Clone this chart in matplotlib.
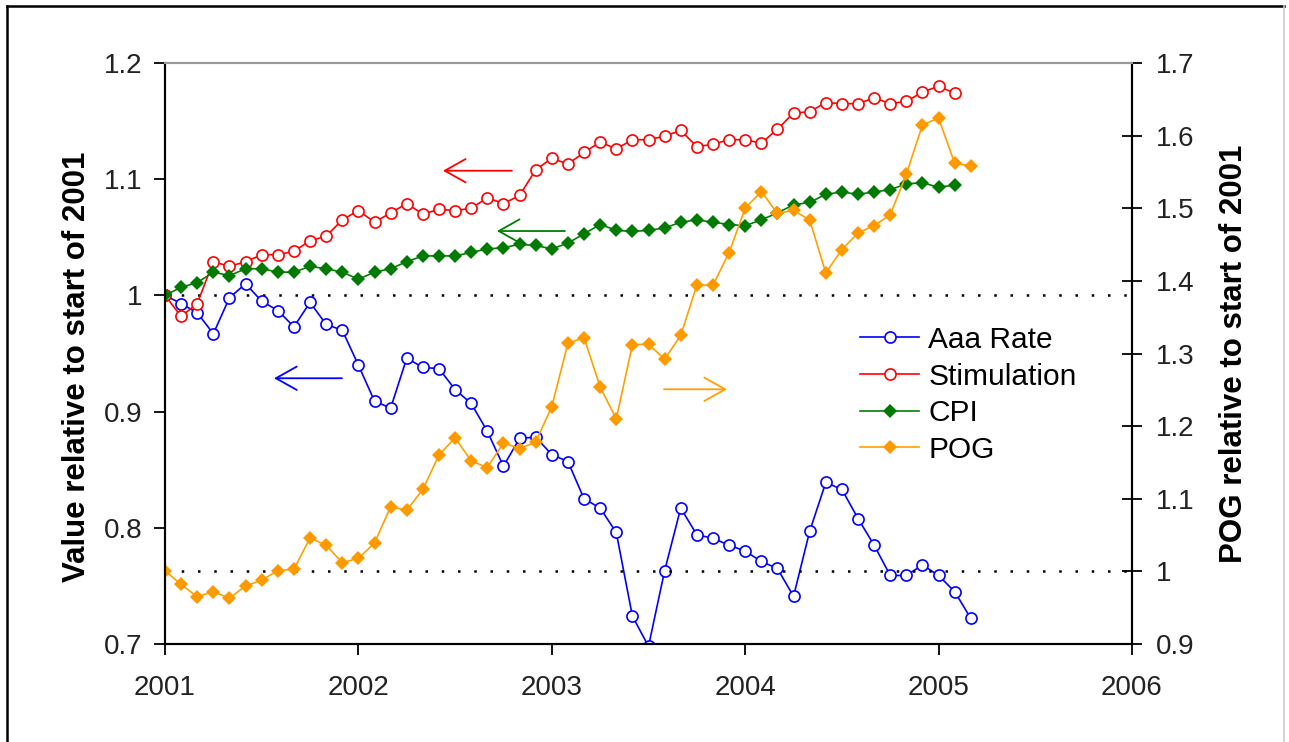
import numpy as np
import matplotlib
matplotlib.use("Agg")
import matplotlib.pyplot as plt
from matplotlib.lines import Line2D

plt.rcParams['font.family'] = ['Liberation Sans', 'DejaVu Sans']

# Monthly series, starting January 2001
START_YEAR = 2001

aaa_rate = [1.000, 0.993, 0.985, 0.967, 0.998, 1.010, 0.995, 0.987, 0.973, 0.994,
            0.975, 0.970, 0.940, 0.909, 0.903, 0.946, 0.938, 0.937, 0.919, 0.907,
            0.883, 0.853, 0.877, 0.878, 0.863, 0.857, 0.825, 0.817, 0.796, 0.724,
            0.698, 0.763, 0.817, 0.794, 0.791, 0.785, 0.780, 0.771, 0.765, 0.741,
            0.797, 0.839, 0.833, 0.808, 0.785, 0.759, 0.759, 0.768, 0.759, 0.745,
            0.722]

stimulation = [1.000, 0.982, 0.993, 1.029, 1.025, 1.029, 1.035, 1.035, 1.038, 1.047,
               1.051, 1.065, 1.073, 1.063, 1.071, 1.079, 1.070, 1.074, 1.073, 1.075,
               1.084, 1.079, 1.086, 1.108, 1.118, 1.113, 1.123, 1.132, 1.126, 1.134,
               1.134, 1.137, 1.142, 1.128, 1.130, 1.134, 1.134, 1.131, 1.143, 1.157,
               1.158, 1.166, 1.165, 1.165, 1.170, 1.165, 1.167, 1.175, 1.180, 1.174]

cpi = [1.000, 1.007, 1.011, 1.020, 1.017, 1.023, 1.023, 1.020, 1.020, 1.025,
       1.023, 1.020, 1.014, 1.020, 1.023, 1.029, 1.034, 1.034, 1.034, 1.037,
       1.040, 1.041, 1.044, 1.043, 1.040, 1.045, 1.053, 1.061, 1.056, 1.055,
       1.056, 1.058, 1.063, 1.065, 1.063, 1.061, 1.060, 1.065, 1.071, 1.078,
       1.080, 1.087, 1.089, 1.087, 1.089, 1.091, 1.096, 1.097, 1.093, 1.095]

pog = [1.001, 0.982, 0.965, 0.972, 0.963, 0.980, 0.988, 1.001, 1.003, 1.046,
       1.036, 1.012, 1.018, 1.039, 1.089, 1.084, 1.113, 1.160, 1.184, 1.152,
       1.143, 1.177, 1.169, 1.178, 1.227, 1.314, 1.322, 1.254, 1.210, 1.312,
       1.313, 1.292, 1.325, 1.394, 1.394, 1.439, 1.500, 1.523, 1.493, 1.497,
       1.484, 1.411, 1.443, 1.466, 1.476, 1.491, 1.547, 1.615, 1.624, 1.562,
       1.558]

year_ticks = [2001, 2002, 2003, 2004, 2005, 2006]
left_ticks = [0.7, 0.8, 0.9, 1.0, 1.1, 1.2]
left_tick_labels = ['0.7', '0.8', '0.9', '1', '1.1', '1.2']
right_ticks = [0.9, 1.0, 1.1, 1.2, 1.3, 1.4, 1.5, 1.6, 1.7]
right_tick_labels = ['0.9', '1', '1.1', '1.2', '1.3', '1.4', '1.5', '1.6', '1.7']


def months(series):
    return START_YEAR + np.arange(len(series)) / 12.0


def main():
    fig = plt.figure(figsize=(12.89, 7.42), dpi=100)
    ax = fig.add_axes([165 / 1289, 1 - 644 / 742, (1132 - 165) / 1289, (644 - 63) / 742])
    ax2 = ax.twinx()

    # Reference lines at 1 on both axes
    dots = dict(color='black', lw=1.8, linestyle=(0, (1, 5.5)), zorder=1)
    ax.axhline(1.0, **dots)
    ax2.axhline(1.0, **dots)

    open_mk = dict(marker='o', markersize=8, markerfacecolor='white',
                   markeredgewidth=1.2, lw=1.2)
    fill_mk = dict(marker='D', markersize=7, markeredgewidth=0, lw=1.2)

    l1, = ax.plot(months(aaa_rate), aaa_rate, color='#0000FF',
                  markeredgecolor='#0000FF', label='Aaa Rate', **open_mk)
    l2, = ax.plot(months(stimulation), stimulation, color='#FF0000',
                  markeredgecolor='#FF0000', label='Stimulation', **open_mk)
    l3, = ax.plot(months(cpi), cpi, color='#008000',
                  markerfacecolor='#007A00', label='CPI', **fill_mk)
    l4, = ax2.plot(months(pog), pog, color='#FFA000',
                   markerfacecolor='#FF9900', label='POG', **fill_mk)

    # Axes ranges and ticks
    ax.set_xlim(2001, 2006)
    ax.set_ylim(0.7, 1.2)
    ax2.set_ylim(0.9, 1.7)
    ax.set_xticks(year_ticks)
    ax.set_xticklabels([str(y) for y in year_ticks])
    ax.set_yticks(left_ticks)
    ax.set_yticklabels(left_tick_labels)
    ax2.set_yticks(right_ticks)
    ax2.set_yticklabels(right_tick_labels)

    ax.tick_params(axis='both', direction='out', length=8, width=1.3,
                   labelsize=20, colors='black', labelcolor='#222222')
    ax.tick_params(axis='x', pad=14)
    ax.tick_params(axis='y', pad=8)
    ax2.tick_params(axis='y', direction='inout', length=14, width=1.3,
                    labelsize=20, labelcolor='#222222', pad=10)

    for a in (ax, ax2):
        a.spines['top'].set_color('#999999')
        a.spines['top'].set_linewidth(1.5)
        for side in ('left', 'right', 'bottom'):
            a.spines[side].set_linewidth(1.5)

    ax.set_ylabel('Value relative to start of 2001', fontsize=22.5,
                  fontweight='bold')
    ax.yaxis.set_label_coords(-0.075, 0.477)
    ax2.set_ylabel('POG relative to start of 2001', fontsize=22.5,
                   fontweight='bold', labelpad=18)

    # Arrows showing which axis each series belongs to
    arrow = dict(arrowstyle='->,head_length=1.25,head_width=0.7',
                 mutation_scale=12, lw=1.3, shrinkA=0, shrinkB=0)
    ax.annotate('', xy=(2002.437, 1.1073), xytext=(2002.794, 1.1073),
                arrowprops=dict(color='#FF0000', **arrow))
    ax.annotate('', xy=(2002.716, 1.0554), xytext=(2003.068, 1.0554),
                arrowprops=dict(color='#008000', **arrow))
    ax.annotate('', xy=(2001.564, 0.9287), xytext=(2001.915, 0.9287),
                arrowprops=dict(color='#0000FF', **arrow))
    ax.annotate('', xy=(2003.906, 0.9192), xytext=(2003.580, 0.9192),
                arrowprops=dict(color='#FFA000', **arrow))

    ax2.legend(handles=[l1, l2, l3, l4], loc='upper left',
               bbox_to_anchor=(0.706, 0.568), frameon=False, fontsize=21.5,
               handlelength=2.0, handletextpad=0.3, labelspacing=0.29,
               borderaxespad=0)

    # Outer frame of the picture
    fig.add_artist(Line2D([7 / 1289, 7 / 1289], [-0.01, 1 - 6 / 742],
                          color='black', lw=1.8, transform=fig.transFigure))
    fig.add_artist(Line2D([7 / 1289, 1284 / 1289], [1 - 6 / 742, 1 - 6 / 742],
                          color='black', lw=1.8, transform=fig.transFigure))
    fig.add_artist(Line2D([1284 / 1289, 1284 / 1289], [-0.01, 1 - 6 / 742],
                          color='#cccccc', lw=1.2, transform=fig.transFigure))

    fig.savefig('out.png', dpi=100)


if __name__ == '__main__':
    main()
